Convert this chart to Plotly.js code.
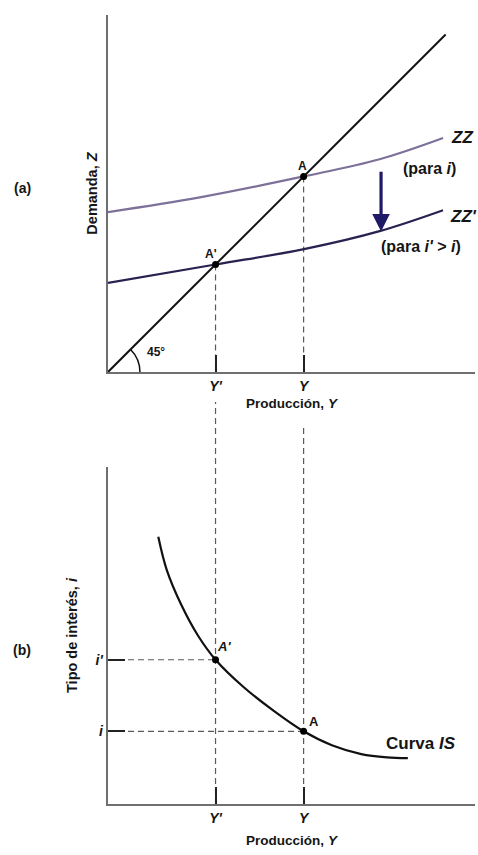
<!DOCTYPE html>
<html>
<head>
<meta charset="utf-8">
<script src="https://cdn.plot.ly/plotly-3.0.1.min.js"></script>
<style>html,body{margin:0;padding:0;background:#fff;}#chart{width:478px;height:855px;}</style>
</head>
<body>
<div id="chart"></div>
<script>
// ---- data (arbitrary units; origin at axis intersection) ----
const Yp = 2.93;   // Y'
const Y = 5.33;    // Y
const iVal = 1.98; // i
const ipVal = 3.93; // i'

// 45-degree line
const line45X = [0, 9.2];
const line45Y = [0, 9.2];

// ZZ (for i)
const zzX = [0, 2.5, 5.33, 7.4, 9.13];
const zzY = [4.36, 4.76, 5.33, 5.80, 6.38];

// ZZ' (for i' > i)
const zzpX = [0, 2.93, 5.34, 7.4, 9.13];
const zzpY = [2.43, 2.93, 3.35, 3.84, 4.41];

// IS curve
const isX = [1.37, 1.60, 2.00, 2.45, 2.93, 3.70, 4.50, 5.33, 6.10, 6.90, 7.60, 8.17];
const isY = [7.28, 6.38, 5.42, 4.59, 3.93, 3.18, 2.55, 1.98, 1.60, 1.36, 1.27, 1.25];

// tick labels
const xTickVals = [Yp, Y];
const xTickText = ["<b><i>Y'</i></b>", "<b><i>Y</i></b>"];
const yTickVals = [iVal, ipVal];
const yTickText = ["<b><i>i</i></b>", "<b><i>i'</i></b>"];

const FONT = "Liberation Sans, Arial, sans-serif";
const INK = "#151515";
const AXIS = "#6f6f6f";
const DASH = "#5a5a5a";

const traces = [
  {x: line45X, y: line45Y, xaxis: 'x', yaxis: 'y', mode: 'lines',
   line: {color: '#111', width: 2}, hoverinfo: 'skip'},
  {x: zzX, y: zzY, xaxis: 'x', yaxis: 'y', mode: 'lines',
   line: {color: '#7d7199', width: 2.2, shape: 'spline', smoothing: 1}, hoverinfo: 'skip'},
  {x: zzpX, y: zzpY, xaxis: 'x', yaxis: 'y', mode: 'lines',
   line: {color: '#27224f', width: 2.2, shape: 'spline', smoothing: 1}, hoverinfo: 'skip'},
  {x: [Y, Yp], y: [Y, Yp], xaxis: 'x', yaxis: 'y', mode: 'markers',
   marker: {color: '#000', size: 7}, hoverinfo: 'skip'},
  {x: isX, y: isY, xaxis: 'x2', yaxis: 'y2', mode: 'lines',
   line: {color: '#111', width: 2.2, shape: 'spline', smoothing: 1}, hoverinfo: 'skip'},
  {x: [Yp, Y], y: [ipVal, iVal], xaxis: 'x2', yaxis: 'y2', mode: 'markers',
   marker: {color: '#000', size: 7}, hoverinfo: 'skip'}
];

const dashLine = {color: DASH, width: 1.2, dash: '6px,4px'};
const shapes = [
  // top panel: from equilibrium points down to x-axis
  {type: 'line', xref: 'x', yref: 'y', x0: Y, x1: Y, y0: Y, y1: 0, line: dashLine, layer: 'below'},
  {type: 'line', xref: 'x', yref: 'y', x0: Yp, x1: Yp, y0: Yp, y1: 0, line: dashLine, layer: 'below'},
  // connectors down into the lower panel
  {type: 'line', xref: 'x2', yref: 'paper', x0: Yp, x1: Yp, y0: 0, y1: 0.5095, line: dashLine, layer: 'below'},
  {type: 'line', xref: 'x2', yref: 'paper', x0: Y, x1: Y, y0: 0, y1: 0.478, line: dashLine, layer: 'below'},
  // lower panel horizontals
  {type: 'line', xref: 'x2', yref: 'y2', x0: 0, x1: Yp, y0: ipVal, y1: ipVal, line: dashLine, layer: 'below'},
  {type: 'line', xref: 'x2', yref: 'y2', x0: 0, x1: Y, y0: iVal, y1: iVal, line: dashLine, layer: 'below'},
  // 45 degree arc
  {type: 'path', xref: 'x', yref: 'y', path: 'M 0.87,0 Q 0.87,0.36 0.615,0.615',
   line: {color: '#111', width: 1.5}}
];

const ann = (x, y, text, size, xref, yref, extra) => Object.assign({
  x: x, y: y, xref: xref || 'x', yref: yref || 'y', text: text, showarrow: false,
  font: {family: FONT, size: size, color: INK}, xanchor: 'center', yanchor: 'middle'
}, extra || {});

const annotations = [
  ann(-0.234, 0.781, '<b>(a)</b>', 14, 'paper', 'paper'),
  ann(-0.234, 0.195, '<b>(b)</b>', 14, 'paper', 'paper'),
  ann(5.29, 5.62, '<b>A</b>', 12),
  ann(2.80, 3.22, "<b>A'</b>", 12),
  ann(1.30, 0.55, '<b>45°</b>', 12),
  ann(9.65, 6.40, '<b><i>ZZ</i></b>', 17),
  ann(8.77, 5.56, '<b>(para <i>i</i>)</b>', 16),
  ann(9.68, 4.24, "<b><i>ZZ'</i></b>", 17),
  ann(8.53, 3.41, "<b>(para <i>i'</i> &gt; <i>i</i>)</b>", 16),
  ann(3.16, 4.28, "<b><i>A'</i></b>", 13, 'x2', 'y2'),
  ann(5.60, 2.24, '<b>A</b>', 13, 'x2', 'y2'),
  ann(8.53, 1.66, '<b>Curva <i>IS</i></b>', 17, 'x2', 'y2'),
  // downward shift arrow
  {x: 7.44, y: 3.83, ax: 7.44, ay: 5.50, xref: 'x', yref: 'y', axref: 'x', ayref: 'y',
   showarrow: true, arrowhead: 2, arrowsize: 1.1, arrowwidth: 3.2, arrowcolor: '#1f1a66',
   standoff: 0, startstandoff: 0, text: ''}
];

const axisBase = {
  showgrid: false, zeroline: false, showline: true, linecolor: AXIS, linewidth: 2.4,
  fixedrange: true
};

const layout = {
  width: 478, height: 855,
  margin: {l: 108, r: 3, t: 15, b: 51},
  paper_bgcolor: '#fff', plot_bgcolor: '#fff',
  showlegend: false,
  font: {family: FONT, color: INK, size: 13},
  xaxis: Object.assign({}, axisBase, {
    domain: [0, 1], anchor: 'y', range: [0, 10],
    tickmode: 'array', tickvals: xTickVals, ticktext: xTickText,
    ticks: 'inside', ticklen: 17, tickwidth: 2, tickcolor: '#222',
    tickfont: {family: FONT, size: 14, color: INK},
    title: {text: '<b>Producción, <i>Y</i></b>', standoff: 6,
            font: {family: FONT, size: 13.5, color: INK}}
  }),
  yaxis: Object.assign({}, axisBase, {
    domain: [0.5475, 1], anchor: 'x', range: [0, 9.73],
    showticklabels: false, ticks: '',
    title: {text: '<b>Demanda, <i>Z</i></b>', standoff: 5,
            font: {family: FONT, size: 14.5, color: INK}}
  }),
  xaxis2: Object.assign({}, axisBase, {
    domain: [0, 1], anchor: 'y2', range: [0, 10],
    tickmode: 'array', tickvals: xTickVals, ticktext: xTickText,
    ticks: 'inside', ticklen: 17, tickwidth: 2, tickcolor: '#222',
    tickfont: {family: FONT, size: 14, color: INK},
    title: {text: '<b>Producción, <i>Y</i></b>', standoff: 11,
            font: {family: FONT, size: 13.5, color: INK}}
  }),
  yaxis2: Object.assign({}, axisBase, {
    domain: [0, 0.4271], anchor: 'x2', range: [0, 9.18],
    tickmode: 'array', tickvals: yTickVals, ticktext: yTickText,
    ticks: 'inside', ticklen: 17, tickwidth: 2, tickcolor: '#222',
    tickfont: {family: FONT, size: 14, color: INK},
    title: {text: '<b>Tipo de interés, <i>i</i></b>', standoff: 15,
            font: {family: FONT, size: 14.5, color: INK}}
  }),
  shapes: shapes,
  annotations: annotations
};

Plotly.newPlot('chart', traces, layout, {staticPlot: true, displayModeBar: false});
</script>
</body>
</html>
